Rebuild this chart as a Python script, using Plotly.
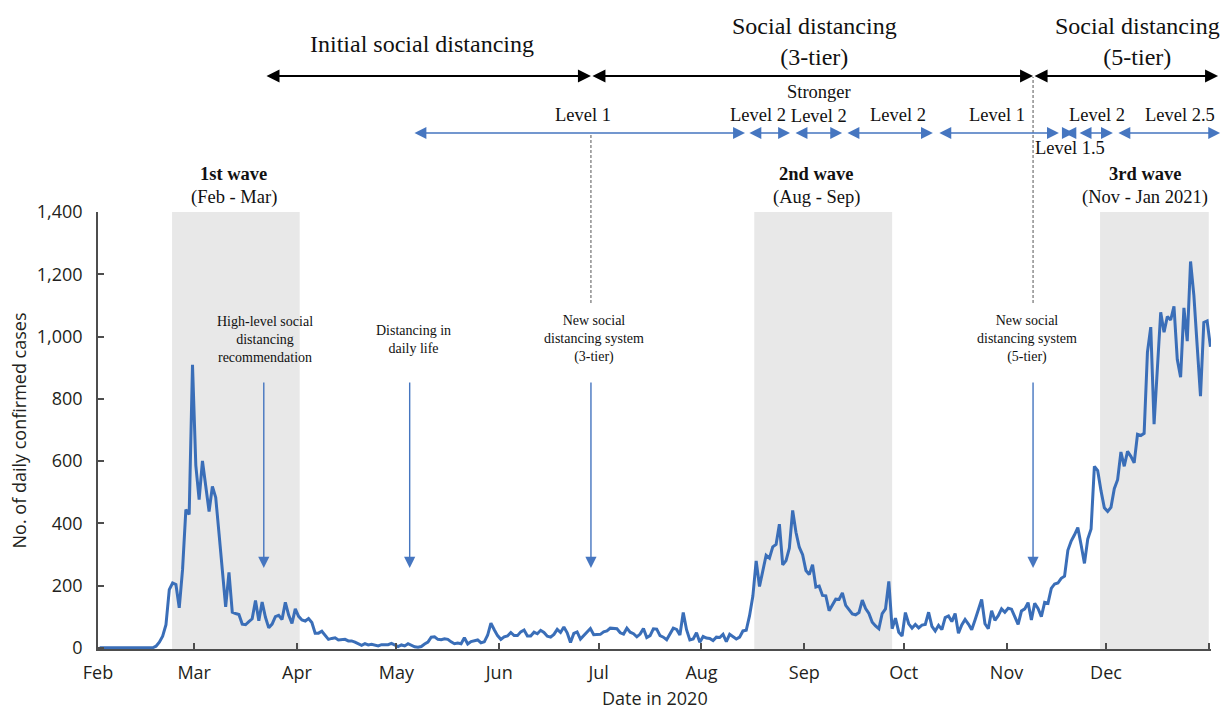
import pandas as pd
import plotly.graph_objects as go

# ---------------- data (daily confirmed cases) ----------------
cases_feb = [0, 0, 0, 0, 0, 0, 0, 0, 0, 0, 0, 0, 0, 0, 0, 0, 0,
             5, 18, 37, 74, 187, 208, 203, 128, 251, 444, 428, 909]
cases_mar = [586, 476, 600, 516, 438, 518, 483, 367, 248, 131, 242, 114, 110, 107, 76, 74,
             84, 93, 152, 87, 147, 98, 64, 76, 100, 104, 91, 146, 105, 78, 125]
cases_apr = [101, 89, 86, 94, 81, 47, 47, 53, 39, 27, 30, 32, 25, 27, 27, 22, 22, 18, 13, 8,
             13, 9, 11, 8, 6, 10, 10, 10, 14, 9]
cases_may = [4, 9, 6, 13, 8, 3, 2, 4, 12, 18, 34, 35, 27, 26, 29, 27, 19, 13, 15, 13,
             32, 12, 20, 23, 25, 16, 19, 40, 79, 58, 39]
cases_jun = [27, 35, 38, 49, 39, 39, 51, 57, 38, 38, 50, 45, 56, 49, 37, 34, 43, 59, 49, 67,
             48, 17, 46, 51, 28, 39, 51, 62, 42, 42]
cases_jul = [43, 51, 54, 63, 63, 61, 48, 44, 63, 50, 45, 35, 44, 62, 33, 39, 61, 60, 39, 34,
             26, 45, 63, 59, 41, 113, 58, 25, 28, 48, 18]
cases_aug = [36, 31, 30, 23, 34, 33, 43, 20, 43, 36, 28, 34, 54, 56, 103, 166, 279, 197, 246, 297,
             288, 324, 332, 397, 266, 280, 320, 441, 371, 323, 299]
cases_sep = [248, 235, 267, 195, 198, 168, 167, 119, 136, 156, 155, 176, 136, 121, 109, 106, 113, 153, 126, 110,
             82, 70, 61, 110, 125, 213, 61, 95, 50, 38]
cases_oct = [113, 77, 63, 75, 64, 73, 75, 114, 69, 54, 72, 58, 97, 102, 84, 110, 47, 73, 91, 76,
             58, 89, 121, 155, 77, 61, 119, 88, 103, 125, 114]
cases_nov = [127, 124, 97, 75, 118, 125, 145, 89, 143, 126, 100, 146, 143, 191, 205, 208, 223, 230, 313, 343,
             363, 386, 330, 271, 349, 382, 583, 569, 504, 450]
cases_dec = [438, 451, 511, 540, 629, 583, 631, 615, 594, 686, 682, 689, 950, 1030, 718, 880, 1078, 1014, 1064, 1053,
             1097, 926, 869, 1092, 985, 1241, 1132, 970, 808, 1045, 1050]
cases_jan = [967]

cases = (cases_feb + cases_mar + cases_apr + cases_may + cases_jun + cases_jul +
         cases_aug + cases_sep + cases_oct + cases_nov + cases_dec + cases_jan)
dates = pd.date_range("2020-02-01", periods=len(cases), freq="D") + pd.Timedelta(hours=12)

month_ticks = ["2020-02-01", "2020-03-01", "2020-04-01", "2020-05-01", "2020-06-01", "2020-07-01",
               "2020-08-01", "2020-09-01", "2020-10-01", "2020-11-01", "2020-12-01", "2021-01-01"]
month_labels = ["Feb", "Mar", "Apr", "May", "Jun", "Jul", "Aug", "Sep", "Oct", "Nov", "Dec", ""]
y_ticks = [0, 200, 400, 600, 800, 1000, 1200, 1400]

# shaded waves: (start, end, title, subtitle, label x)
waves = [
    ("2020-02-23 08:00", "2020-04-01 20:00", "1st wave", "(Feb - Mar)", "2020-03-13"),
    ("2020-08-16 22:00", "2020-09-27 12:00", "2nd wave", "(Aug - Sep)", "2020-09-04 19:00"),
    ("2020-11-29 05:00", "2021-01-01 00:00", "3rd wave", "(Nov - Jan 2021)", "2020-12-12 19:00"),
]
# broad policy periods (black arrows)
policy_start = ["2020-03-22 09:00", "2020-06-28 16:00", "2020-11-09 00:00"]
policy_end = ["2020-06-28 16:00", "2020-11-09 00:00", "2021-01-03 19:00"]
policy_names = ["Initial social distancing", "Social distancing<br>(3-tier)", "Social distancing<br>(5-tier)"]
policy_label_x = ["2020-05-08 17:00", "2020-09-04 05:00", "2020-12-10 14:00"]
# level periods (blue arrows)
level_start = ["2020-05-06 00:00", "2020-08-15 00:00", "2020-08-28 22:00", "2020-09-13 14:00",
               "2020-10-11 07:00", "2020-11-18 00:00", "2020-11-22 14:00", "2020-12-04 07:00"]
level_end = ["2020-08-14 03:00", "2020-08-27 17:00", "2020-09-12 10:00", "2020-10-09 19:00",
             "2020-11-16 19:00", "2020-11-21 07:00", "2020-12-03 02:00", "2021-01-04 10:00"]
level_names = ["Level 1", "Level 2", "Stronger<br>Level 2", "Level 2", "Level 1", "Level 1.5", "Level 2", "Level 2.5"]
level_label_x = ["2020-06-26 07:00", "2020-08-18 00:00", "2020-09-05 10:00", "2020-09-29 07:00",
                 "2020-10-29 02:00", "2020-11-20 02:00", "2020-11-28 07:00", "2020-12-23 07:00"]
# events (blue down arrows)
event_dates = ["2020-03-22 00:00", "2020-05-05 00:00", "2020-06-28 16:00", "2020-11-09 00:00"]
event_texts = ["High-level social<br>distancing<br>recommendation", "Distancing in<br>daily life",
               "New social<br>distancing system<br>(3-tier)", "New social<br>distancing system<br>(5-tier)"]
event_label_x = ["2020-03-22 09:00", "2020-05-06 00:00", "2020-06-29 14:00", "2020-11-07 05:00"]

# ---------------- figure ----------------
W, H = 1223, 711
ML, MR, MT, MB = 98, 12, 212, 62
PLOT_BOTTOM = H - MB
PLOT_H = H - MT - MB


def ypx(p):
    """pixel row -> paper fraction"""
    return (PLOT_BOTTOM - p) / PLOT_H


LINE_BLUE = "#3a6eb8"
ARROW_BLUE = "#4676c0"
SERIF = "Liberation Serif, Times New Roman, serif"
SANS = "Open Sans, Noto Sans, sans-serif"
AX = "#4d4d4d"
TXT = "#231f20"

fig = go.Figure()
fig.add_trace(go.Scatter(x=dates, y=cases, mode="lines",
                         line=dict(color=LINE_BLUE, width=3), hoverinfo="skip", showlegend=False))

shapes = []
for s, e, *_ in waves:
    shapes.append(dict(type="rect", xref="x", yref="y", x0=s, x1=e, y0=-4, y1=1400,
                       fillcolor="#e8e8e8", line=dict(width=0), layer="below"))
# dashed guide lines
shapes.append(dict(type="line", xref="x", yref="paper", x0=policy_end[0], x1=policy_end[0],
                   y0=ypx(303), y1=ypx(133), line=dict(color="#555", width=1, dash="3px,2px")))
shapes.append(dict(type="line", xref="x", yref="paper", x0=policy_end[1], x1=policy_end[1],
                   y0=ypx(303), y1=ypx(77), line=dict(color="#555", width=1, dash="3px,2px")))

ann = []


def harrow(x0, x1, yp, color, width, size):
    return dict(x=x1, y=ypx(yp), xref="x", yref="paper", ax=x0, ay=0, axref="x", ayref="pixel",
                text="", font=dict(size=1), showarrow=True, arrowhead=2, startarrowhead=2,
                arrowside="end+start", arrowsize=size, startarrowsize=size, arrowwidth=width,
                arrowcolor=color, standoff=0, startstandoff=0)


def label(x, yp, text, size, bold=False):
    t = f"<b>{text}</b>" if bold else text
    return dict(x=x, y=ypx(yp), xref="x", yref="paper", text=t, showarrow=False,
                xanchor="center", yanchor="middle",
                font=dict(family=SERIF, size=size, color="#111"))


for s, e in zip(policy_start, policy_end):
    ann.append(harrow(s, e, 76, "#000", 2, 1.3))
ann.append(label(policy_label_x[0], 44, policy_names[0], 24))
ann.append(label(policy_label_x[1], 41, policy_names[1], 24))
ann.append(label(policy_label_x[2], 41, policy_names[2], 24))

for s, e in zip(level_start, level_end):
    ann.append(harrow(s, e, 133, ARROW_BLUE, 1.4, 1.7))
level_y = [115, 115, 104, 115, 115, 148, 115, 115]
for x, yp, t in zip(level_label_x, level_y, level_names):
    ann.append(label(x, yp, t, 18.5))

for s, e, t1, t2, lx in waves:
    ann.append(label(lx, 174, t1, 18.5, bold=True))
    ann.append(label(lx, 197, t2, 18.5))

for x, lx, t in zip(event_dates, event_label_x, event_texts):
    ann.append(dict(x=x, y=ypx(568), xref="x", yref="paper", ax=0, ay=-187, text="", font=dict(size=1),
                    showarrow=True, arrowhead=2, arrowsize=1.6, arrowwidth=1.4, arrowcolor=ARROW_BLUE,
                    standoff=0, startstandoff=0))
    ann.append(label(lx, 339, t, 14))

# x-axis title as a positioned annotation
ann.append(dict(x=0.5, y=ypx(698), xref="paper", yref="paper", text="Date in 2020", showarrow=False,
                xanchor="center", yanchor="middle", borderpad=0,
                font=dict(family=SANS, size=18, color=TXT)))

fig.update_layout(
    width=W, height=H,
    margin=dict(l=ML, r=MR, t=MT, b=MB, pad=0),
    paper_bgcolor="white", plot_bgcolor="white",
    shapes=shapes, annotations=ann,
    font=dict(family=SANS, size=18, color=TXT),
    xaxis=dict(range=["2020-02-01", "2021-01-01 16:00"], tickvals=month_ticks, ticktext=month_labels,
               ticks="inside", ticklen=6, tickwidth=1.5, tickcolor=AX,
               showline=True, linecolor=AX, linewidth=1.5, showgrid=False, zeroline=False,
               tickfont=dict(family=SANS, size=18, color=TXT), ticklabelstandoff=7,
               automargin=False),
    yaxis=dict(range=[-4, 1400], tickvals=y_ticks, tickformat=",",
               ticks="inside", ticklen=6, tickwidth=1.5, tickcolor=AX,
               showline=True, linecolor=AX, linewidth=1.5, showgrid=False, zeroline=False,
               tickfont=dict(family=SANS, size=18, color=TXT), ticklabelstandoff=10,
               title=dict(text="No. of daily confirmed cases", font=dict(family=SANS, size=18, color=TXT),
                          standoff=6),
               automargin=False),
)

fig.write_html("out.html", config={"displayModeBar": False},
               post_script="document.body.style.margin='0';document.body.style.overflow='hidden';")
